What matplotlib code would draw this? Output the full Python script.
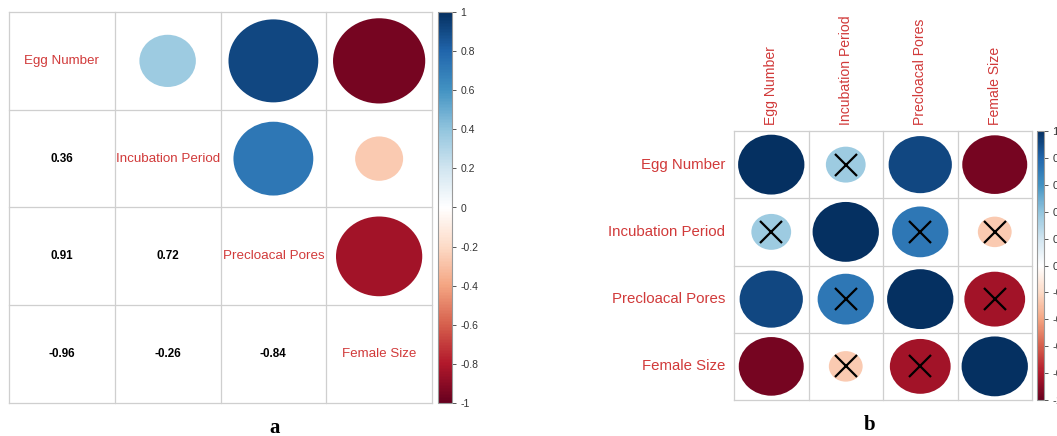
import numpy as np
import matplotlib
matplotlib.use("Agg")
import matplotlib.pyplot as plt
from matplotlib.patches import Ellipse
from matplotlib.colors import LinearSegmentedColormap, Normalize
from matplotlib.cm import ScalarMappable

# Variables and pairwise correlations
variables = ["Egg Number", "Incubation Period", "Precloacal Pores", "Female Size"]
corr = np.array([
    [1.00, 0.36, 0.91, -0.96],
    [0.36, 1.00, 0.72, -0.26],
    [0.91, 0.72, 1.00, -0.84],
    [-0.96, -0.26, -0.84, 1.00],
])
# Pairs whose correlation is not significant (crossed out in panel b)
insignificant = np.array([
    [0, 1, 0, 0],
    [1, 0, 1, 1],
    [0, 1, 0, 1],
    [0, 1, 1, 0],
], dtype=bool)
cbar_ticks = [-1, -0.8, -0.6, -0.4, -0.2, 0, 0.2, 0.4, 0.6, 0.8, 1]

W, H = 1057, 436
fig = plt.figure(figsize=(W / 100, H / 100), dpi=100)
fig.patch.set_facecolor("white")

cmap = LinearSegmentedColormap.from_list(
    "rdbu2",
    ["#67001F", "#B2182B", "#D6604D", "#F4A582", "#FDDBC7", "#FFFFFF",
     "#D1E5F0", "#92C5DE", "#4393C3", "#2166AC", "#053061"])
norm = Normalize(-1, 1)

LABEL_RED = "#D13A3A"
GRID = "#CFCFCF"
FONT = "Liberation Sans"


def px_axes(x0, y0, x1, y1):
    return fig.add_axes([x0 / W, 1 - y1 / H, (x1 - x0) / W, (y1 - y0) / H])


def grid_frame(ax, n):
    ax.set_xlim(0, n)
    ax.set_ylim(n, 0)
    ax.set_xticks([])
    ax.set_yticks([])
    for s in ax.spines.values():
        s.set_visible(False)
    for k in range(n + 1):
        ax.axhline(k, color=GRID, lw=0.9, zorder=1, clip_on=False)
        ax.axvline(k, color=GRID, lw=0.9, zorder=1, clip_on=False)


def circle(ax, i, j, r):
    d = 0.89 * np.sqrt(abs(r))
    ax.add_patch(Ellipse((j + 0.5, i + 0.5), d, d, facecolor=cmap(norm(r)),
                         edgecolor="none", zorder=2))


def colorbar(x0, y0, x1, y1, size):
    cax = px_axes(x0, y0, x1, y1)
    cb = fig.colorbar(ScalarMappable(norm=norm, cmap=cmap), cax=cax)
    cb.set_ticks(cbar_ticks)
    cb.set_ticklabels(["0" if t == 0 else f"{t:g}" for t in cbar_ticks])
    cb.outline.set_edgecolor("#9A9A9A")
    cb.outline.set_linewidth(0.8)
    cax.tick_params(length=3, width=0.7, color="#555555", labelsize=size,
                    labelcolor="#333333", pad=3)
    for lab in cax.get_yticklabels():
        lab.set_fontfamily(FONT)
    return cax


n = len(variables)

# Panel a: mixed layout, circles above the diagonal, values below
ax_a = px_axes(9, 12, 432, 403)
grid_frame(ax_a, n)
for i in range(n):
    for j in range(n):
        if i == j:
            ax_a.text(j + 0.5, i + 0.5, variables[i], ha="center", va="center",
                      color=LABEL_RED, fontsize=9.6, fontfamily=FONT, zorder=3)
        elif j > i:
            circle(ax_a, i, j, corr[i, j])
        else:
            ax_a.text(j + 0.5, i + 0.5, f"{corr[i, j]:.2f}", ha="center",
                      va="center", color="black", fontsize=8.4,
                      fontweight="bold", fontfamily=FONT, zorder=3)
colorbar(438, 12, 452, 403, 7.5)

# Panel b: full circle matrix with non-significant pairs crossed out
ax_b = px_axes(734, 131, 1032, 400)
grid_frame(ax_b, n)
for i in range(n):
    for j in range(n):
        circle(ax_b, i, j, corr[i, j])
        if insignificant[i, j]:
            ax_b.plot(j + 0.5, i + 0.5, marker="x", color="black",
                      markersize=16, markeredgewidth=1.6, zorder=3)
for k, name in enumerate(variables):
    ax_b.text(-0.12, k + 0.5, name, ha="right", va="center", color=LABEL_RED,
              fontsize=10.8, fontfamily=FONT, clip_on=False)
    ax_b.text(k + 0.5, -0.09, name, ha="center", va="bottom", rotation=90,
              color=LABEL_RED, fontsize=10.1, fontfamily=FONT, clip_on=False)
colorbar(1037, 131, 1044, 400, 8)

# Panel letters
fig.text(275 / W, 1 - 428 / H, "a", ha="center", va="center",
         fontsize=15, fontweight="bold", fontfamily="Liberation Serif")
fig.text(870 / W, 1 - 425 / H, "b", ha="center", va="center",
         fontsize=15, fontweight="bold", fontfamily="Liberation Serif")

fig.savefig("out.png", dpi=100, facecolor="white")
